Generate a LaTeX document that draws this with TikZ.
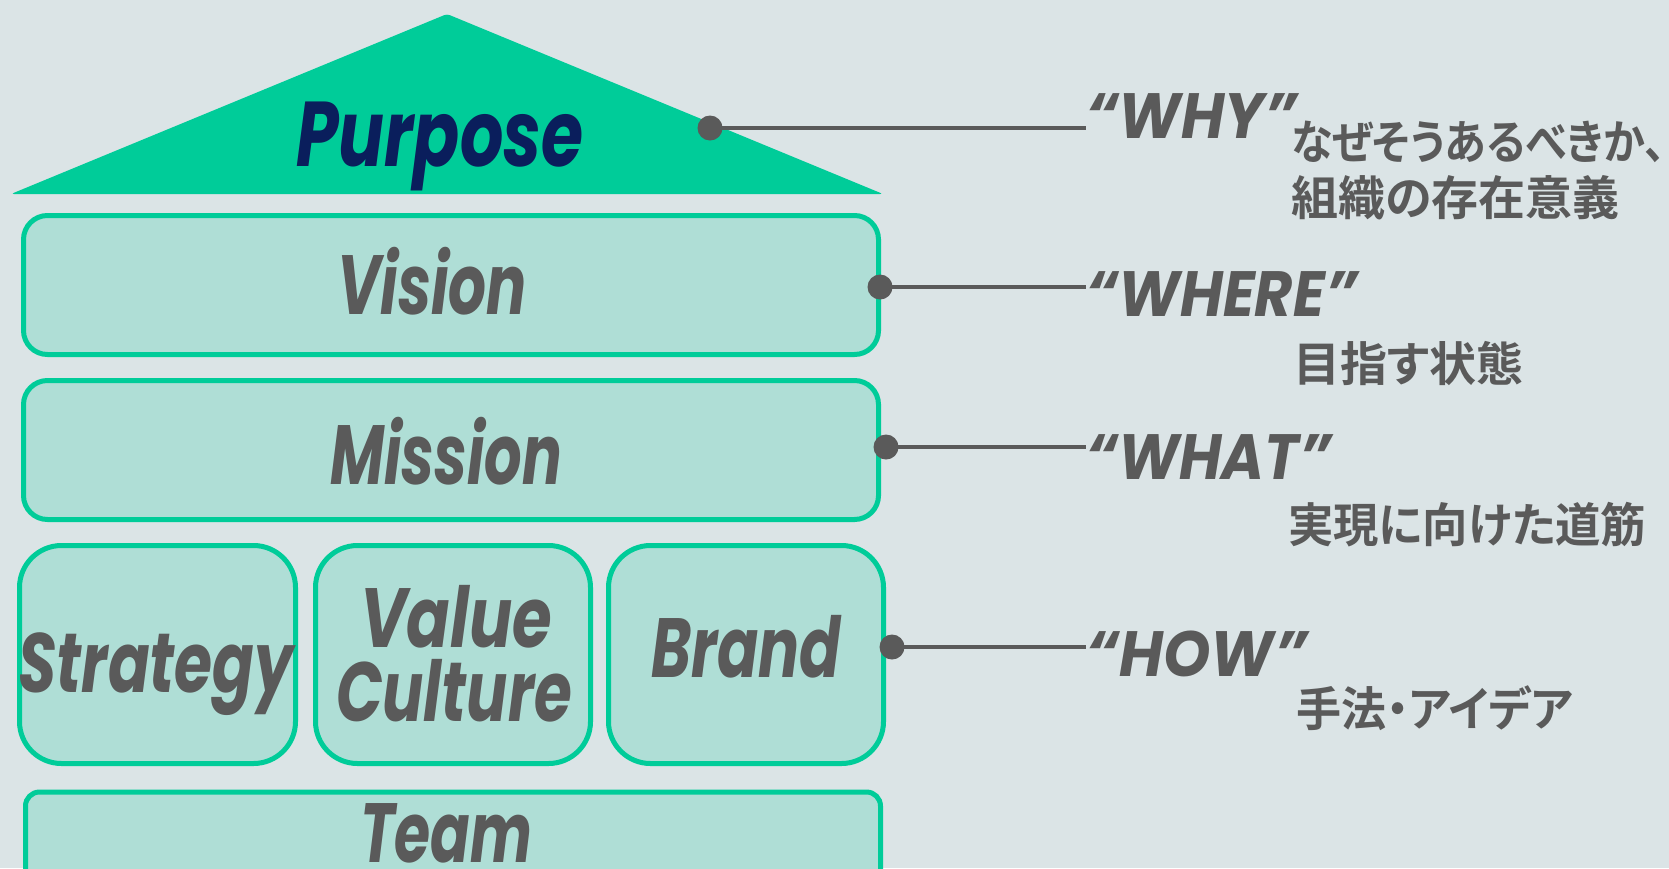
\documentclass[tikz,border=0pt]{standalone}
\usepackage{fontspec}
\usepackage{graphicx}
\newfontfamily\headfont{Poppins}
\newfontfamily\jpfont{Noto Sans CJK JP Bold}[RawFeature=+palt]
\definecolor{bg}{RGB}{219,228,230}
\definecolor{roofc}{RGB}{0,204,153}
\definecolor{boxfill}{RGB}{175,222,214}
\definecolor{boxline}{RGB}{0,204,153}
\definecolor{navy}{RGB}{10,30,92}
\definecolor{txt}{RGB}{90,90,90}
\tikzset{
  pillar/.style={draw=boxline, fill=boxfill, line width=5pt, inner sep=0pt},
  word/.style={text=txt, inner sep=0pt, anchor=base, font=\headfont\bfseries\itshape\fontsize{84}{84}\selectfont},
  qword/.style={text=txt, inner sep=0pt, anchor=base west, font=\headfont\bfseries\itshape\fontsize{64}{64}\selectfont},
  jp/.style={text=txt, inner sep=0pt, anchor=west, align=left, font=\jpfont\fontsize{47}{56}\selectfont},
  dotc/.style={circle, fill=txt, inner sep=0pt, minimum size=25pt},
  conn/.style={draw=txt, line width=3.5pt}
}
\begin{document}
\begin{tikzpicture}[x=1pt,y=-1pt]
\fill[bg] (0,0) rectangle (1669,868);
\clip (0,0) rectangle (1669,868);
% roof
\fill[roofc, rounded corners=3pt] (447,14) -- (883,194) -- (11,194) -- cycle;
\node[word, text=navy, font=\headfont\bfseries\itshape\fontsize{92}{92}\selectfont] (tpurpose) at (440,166) {\resizebox{287pt}{\height}{Purpose}};
% boxes
\node[pillar, rounded corners=24pt, minimum width=855pt, minimum height=139pt] (vision) at (451,285) {};
\node[pillar, rounded corners=24pt, minimum width=855pt, minimum height=139pt] (mission) at (451,450) {};
\node[pillar, rounded corners=42pt, minimum width=276pt, minimum height=218pt] (strategy) at (157.5,654.5) {};
\node[pillar, rounded corners=42pt, minimum width=275pt, minimum height=218pt] (value) at (453,654.5) {};
\node[pillar, rounded corners=42pt, minimum width=275pt, minimum height=218pt] (brand) at (746,654.5) {};
\node[pillar, rounded corners=14pt, minimum width=855pt, minimum height=120pt] (team) at (453,852) {};
% labels
\node[word] (tvision) at (432,314) {\resizebox{190pt}{\height}{Vision}};
\node[word] (tmission) at (446,484) {\resizebox{232pt}{\height}{Mission}};
\node[word] (tstrategy) at (156,692) {\resizebox{275pt}{\height}{Strategy}};
\node[word] (tvalue) at (456,647) {\resizebox{192pt}{\height}{Value}};
\node[word] (tculture) at (454,721) {\resizebox{236pt}{\height}{Culture}};
\node[word] (tbrand) at (746,677) {\resizebox{190pt}{\height}{Brand}};
\node[word] (tteam) at (446,862) {\resizebox{172pt}{\height}{Team}};
% right side
\node[qword] (why) at (1086,138) {\resizebox{211pt}{\height}{“WHY”}};
\node[qword] (where) at (1086,316) {\resizebox{271pt}{\height}{“WHERE”}};
\node[qword] (what) at (1086,479) {\resizebox{245pt}{\height}{“WHAT”}};
\node[qword] (how) at (1086,676) {\resizebox{221pt}{\height}{“HOW”}};
\node[jp, anchor=north west] (jwhy) at (1291,121) {\resizebox{374pt}{\height}{なぜそうあるべきか、}\\組織の存在意義};
\node[jp] (jwhere) at (1293,363) {目指す状態};
\node[jp] (jwhat) at (1288,525) {\resizebox{358pt}{\height}{実現に向けた道筋}};
\node[jp] (jhow) at (1296,708) {\resizebox{277pt}{\height}{手法・アイデア}};
% dots and connectors
\node[dotc] (dwhy) at (710,128) {};
\node[dotc] (dwhere) at (880,287) {};
\node[dotc] (dwhat) at (886,447) {};
\node[dotc] (dhow) at (892,647) {};
\draw[conn] (dwhy.center) -- (dwhy -| why.west);
\draw[conn] (dwhere.center) -- (dwhere -| where.west);
\draw[conn] (dwhat.center) -- (dwhat -| what.west);
\draw[conn] (dhow.center) -- (dhow -| how.west);
\end{tikzpicture}
\end{document}
